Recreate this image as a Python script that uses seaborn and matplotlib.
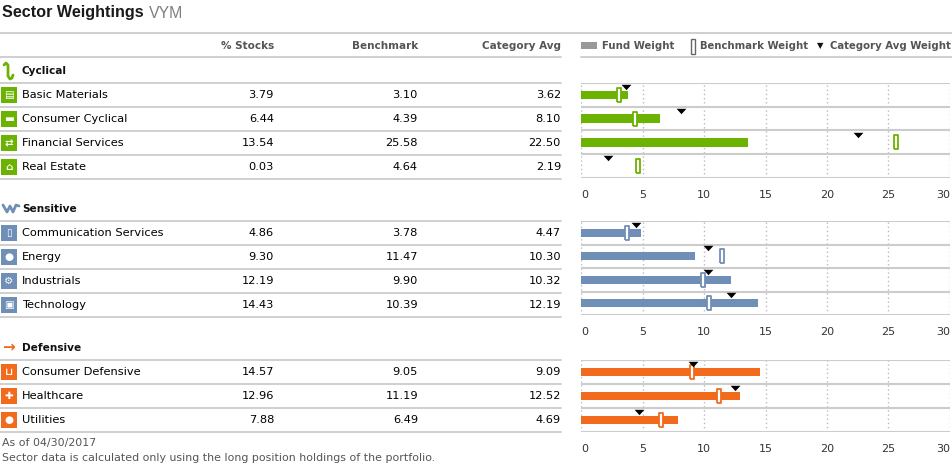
"""
Sector Weightings table for VYM: per-sector fund weight vs benchmark and
category average, drawn as a table on the left and bullet-style bars on the right.
"""

import numpy as np
import pandas as pd
import seaborn as sns
import matplotlib.pyplot as plt
from matplotlib.lines import Line2D
from matplotlib.patches import Rectangle

# ---- data -----------------------------------------------------------------
cyclical_sectors = ["Basic Materials", "Consumer Cyclical", "Financial Services", "Real Estate"]
cyclical_fund = [3.79, 6.44, 13.54, 0.03]
cyclical_bench = [3.10, 4.39, 25.58, 4.64]
cyclical_cat = [3.62, 8.10, 22.50, 2.19]

sensitive_sectors = ["Communication Services", "Energy", "Industrials", "Technology"]
sensitive_fund = [4.86, 9.30, 12.19, 14.43]
sensitive_bench = [3.78, 11.47, 9.90, 10.39]
sensitive_cat = [4.47, 10.30, 10.32, 12.19]

defensive_sectors = ["Consumer Defensive", "Healthcare", "Utilities"]
defensive_fund = [14.57, 12.96, 7.88]
defensive_bench = [9.05, 11.19, 6.49]
defensive_cat = [9.09, 12.52, 4.69]

x_ticks = [0, 5, 10, 15, 20, 25, 30]
column_labels = ["% Stocks", "Benchmark", "Category Avg"]
legend_labels = ["Fund Weight", "Benchmark Weight", "Category Avg Weight"]

GREEN = "#6bb300"
BLUE = "#708fb6"
ORANGE = "#f26a1b"
LINE = "#cccccc"

W, H = 953, 466


def fx(x):
    return x / W


def fy(y):
    return 1 - y / H


def hline(fig, x0, x1, y):
    fig.add_artist(Line2D([fx(x0), fx(x1)], [fy(y), fy(y)],
                          transform=fig.transFigure, color=LINE, lw=1.3))


def bench_marker():
    return [(-1.5, -7), (1.5, -7), (1.5, 7), (-1.5, 7), (-1.5, -7)]


def tri_marker():
    return [(-1, 0.55), (1, 0.55), (0, -0.55), (-1, 0.55)]


def draw_group(fig, name, sectors, fund, bench, cat, color, glyphs,
               header_y, chart_bottom):
    n = len(sectors)
    top = header_y + 12

    # section header
    fig.text(fx(22), fy(header_y), name, fontsize=7.6, weight="bold",
             color="#111111", va="center")

    # table rows
    hline(fig, 0, 561, top)
    for i, sec in enumerate(sectors):
        yc = top + 12 + 24 * i
        fig.add_artist(Rectangle((fx(1), fy(yc + 8)), 16 / W, 16 / H,
                                 transform=fig.transFigure, facecolor=color,
                                 edgecolor="none"))
        fig.text(fx(9), fy(yc), glyphs[i], fontsize=7.5, color="white",
                 ha="center", va="center", weight="bold")
        fig.text(fx(22), fy(yc), sec, fontsize=8.2, color="#000000", va="center")
        for xr, v in zip([274, 418, 561], [fund[i], bench[i], cat[i]]):
            fig.text(fx(xr), fy(yc), f"{v:.2f}", fontsize=8.2, color="#000000",
                     ha="right", va="center")
        hline(fig, 0, 561, top + 24 * (i + 1))

    # chart
    ax = fig.add_axes([fx(581), fy(chart_bottom), (950 - 581) / W,
                       (chart_bottom - top) / H])
    df = pd.DataFrame({"sector": sectors, "fund": fund})
    sns.barplot(data=df, x="fund", y="sector", orient="h", color=color,
                saturation=1, width=0.36, linewidth=0, ax=ax, zorder=2)
    pos = np.arange(n)
    ax.scatter(bench, pos, marker=bench_marker(), s=110, facecolor="white",
               edgecolor=color, linewidth=1.3, zorder=3)
    ax.scatter(cat, pos - 0.33, marker=tri_marker(), s=50, color="black",
               linewidth=0, zorder=4)

    ax.set_xlim(0, 30)
    ax.set_ylim(n - 0.5, -0.5)
    for b in np.arange(n + 1) - 0.5:
        ax.axhline(b, color=LINE, lw=1.5, zorder=1)
    ax.set_xticks(x_ticks)
    ax.set_xticklabels([str(t) for t in x_ticks])
    labels = ax.get_xticklabels()
    labels[0].set_ha("left")
    labels[-1].set_ha("right")
    ax.set_yticks([])
    ax.set_xlabel("")
    ax.set_ylabel("")
    ax.grid(axis="x", linestyle=(0, (1, 2)), color="#bbbbbb", lw=1, zorder=0)
    ax.grid(axis="y", visible=False)
    ax.tick_params(axis="x", length=5, width=1, color=LINE, labelsize=8,
                   labelcolor="#333333", pad=3.5)
    for s in ax.spines.values():
        s.set_visible(False)
    ax.set_facecolor("none")
    return ax


def main():
    sns.set_style("white")
    plt.rcParams["font.family"] = ["DejaVu Sans"]

    fig = plt.figure(figsize=(W / 100, H / 100), dpi=100)

    # title
    fig.text(fx(2), fy(13), "Sector Weightings", fontsize=11.6, weight="bold",
             family="Liberation Sans", color="#1a1a1a", va="center")
    fig.text(fx(149), fy(13), "VYM", fontsize=11.4, family="Liberation Sans",
             color="#808080", va="center")
    hline(fig, 0, 953, 33)

    # column headers
    for xr, lab in zip([274, 418, 561], column_labels):
        fig.text(fx(xr), fy(46), lab, fontsize=7.5, weight="bold",
                 color="#555555", ha="right", va="center")
    hline(fig, 0, 561, 57)
    hline(fig, 581, 953, 57)

    # legend
    fig.add_artist(Rectangle((fx(581), fy(49)), 16 / W, 7 / H,
                             transform=fig.transFigure, facecolor="#999999",
                             edgecolor="none"))
    fig.text(fx(602), fy(46), legend_labels[0], fontsize=7.3, weight="bold",
             color="#555555", va="center")
    fig.add_artist(Rectangle((fx(691), fy(54)), 4 / W, 15 / H,
                             transform=fig.transFigure, facecolor="white",
                             edgecolor="#666666", lw=1))
    fig.text(fx(700), fy(46), legend_labels[1], fontsize=7.3, weight="bold",
             color="#555555", va="center")
    fig.text(fx(820), fy(46), "\u25bc", fontsize=6, color="#111111",
             ha="center", va="center")
    fig.text(fx(830), fy(46), legend_labels[2], fontsize=7.3, weight="bold",
             color="#555555", va="center")

    # section icons
    fig.add_artist(Line2D([fx(p) for p in [4, 6, 8, 8, 10, 12, 13]],
                          [fy(p) for p in [65, 63, 65, 76, 79, 78, 75]],
                          transform=fig.transFigure, color=GREEN, lw=2))
    fig.add_artist(Line2D([fx(p) for p in [3, 7, 10, 13, 16, 19]],
                          [fy(p) for p in [205, 212, 206, 212, 205, 206]],
                          transform=fig.transFigure, color=BLUE, lw=2))
    fig.text(fx(2), fy(347), "\u2192", fontsize=11, color=ORANGE,
             weight="bold", va="center")

    draw_group(fig, "Cyclical", cyclical_sectors, cyclical_fund,
               cyclical_bench, cyclical_cat, GREEN,
               ["\u25a4", "\u25ac", "\u21c4", "\u2302"], 71, 178)
    draw_group(fig, "Sensitive", sensitive_sectors, sensitive_fund,
               sensitive_bench, sensitive_cat, BLUE,
               ["\u25af", "\u25cf", "\u2699", "\u25a3"], 209, 315)
    draw_group(fig, "Defensive", defensive_sectors, defensive_fund,
               defensive_bench, defensive_cat, ORANGE,
               ["\u2294", "\u271a", "\u25cf"], 348, 432)

    # footer
    fig.text(fx(2), fy(443), "As of 04/30/2017", fontsize=7.9,
             color="#555555", va="center")
    fig.text(fx(2), fy(458),
             "Sector data is calculated only using the long position holdings of the portfolio.",
             fontsize=7.9, color="#555555", va="center")

    fig.savefig("out.png", dpi=100)
    plt.close(fig)


if __name__ == "__main__":
    main()
